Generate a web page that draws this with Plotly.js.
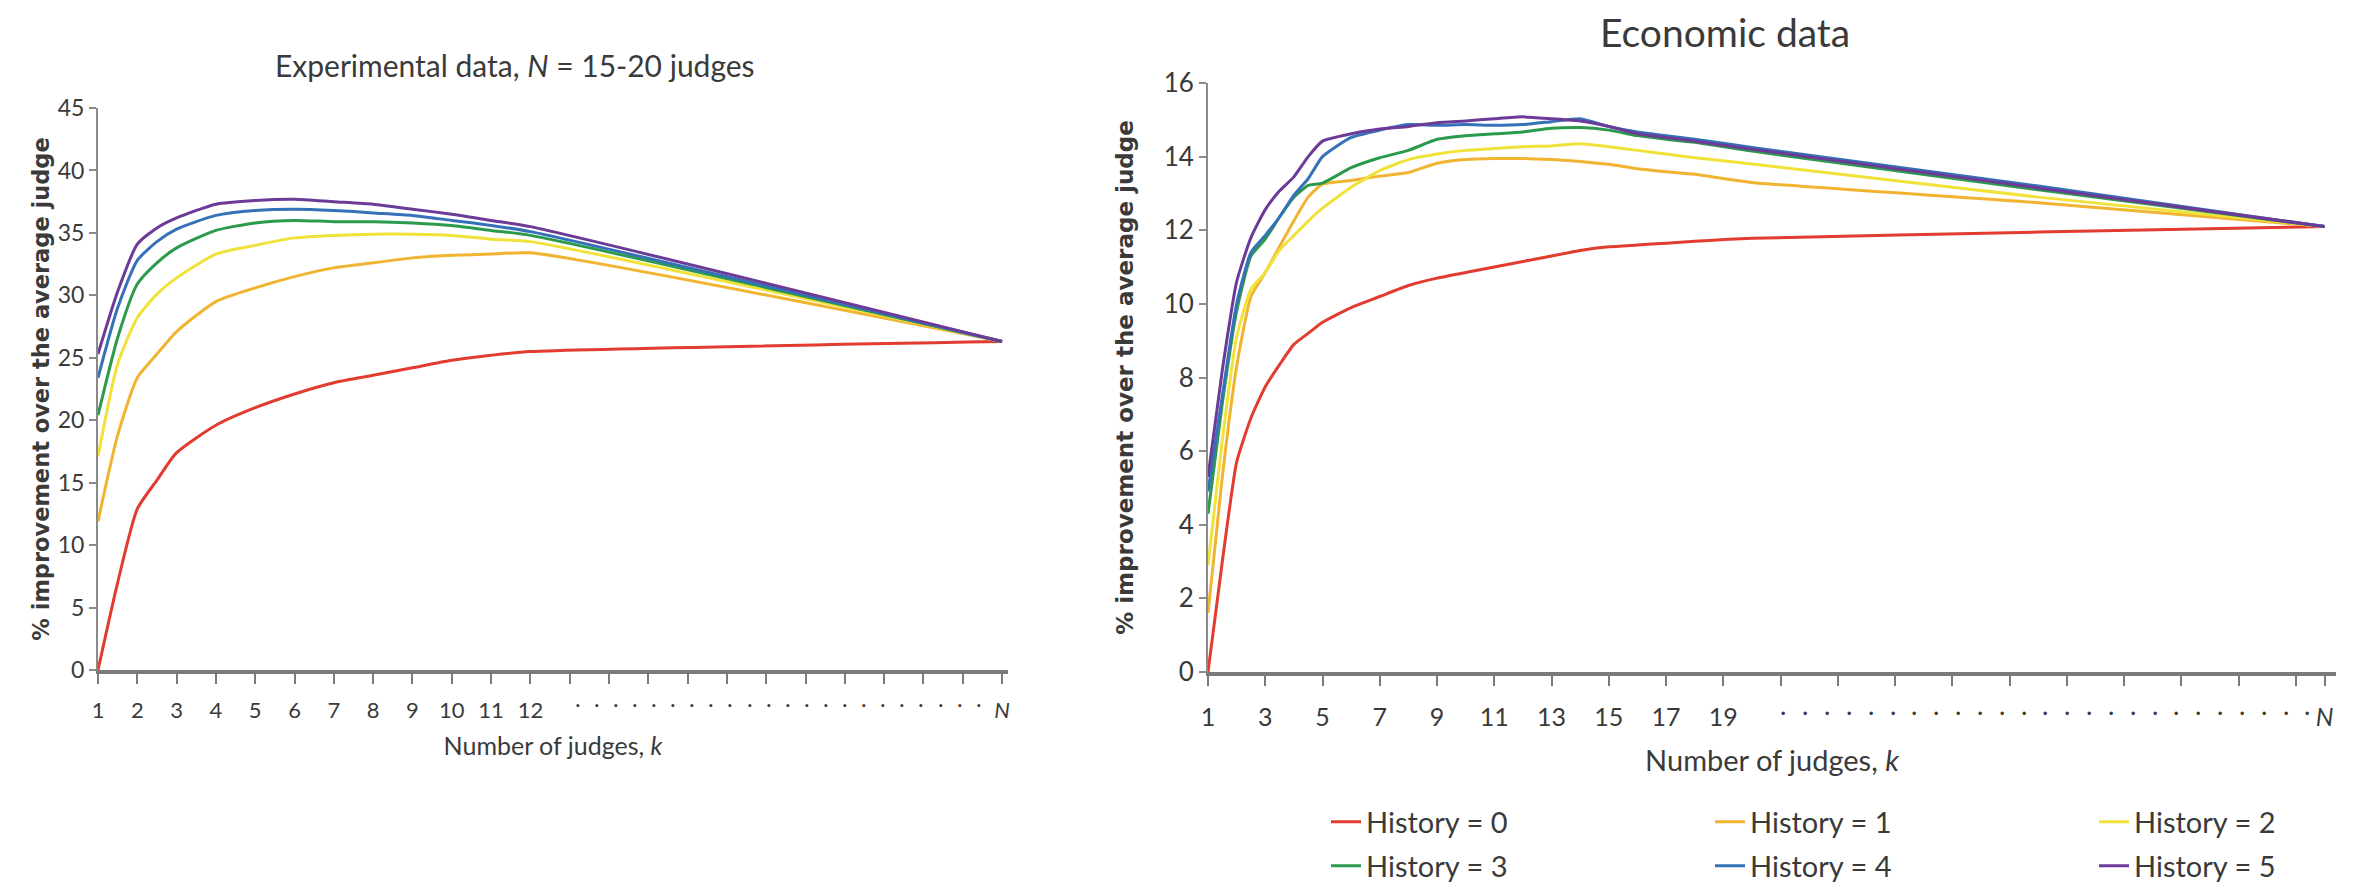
<!DOCTYPE html>
<html>
<head>
<meta charset="utf-8">
<script src="https://cdn.plot.ly/plotly-3.0.1.min.js"></script>
<style>html,body{margin:0;padding:0;background:#fff;}#chart{width:2364px;height:890px;}</style>
</head>
<body>
<div id="chart"></div>
<script>
// ---------- data ----------
var seriesNames = ['History = 0', 'History = 1', 'History = 2', 'History = 3', 'History = 4', 'History = 5'];
var seriesColors = ['#e23b2f', '#f1b431', '#f1e23a', '#2c9a4b', '#3571b8', '#6b3b97'];

// Left panel: experimental data (k positions; 24 = N)
var kLeft = [1, 1.5, 2, 2.5, 3, 4, 5, 6, 7, 8, 9, 10, 11, 12, 24];
var expH0 = [0, 7.0, 12.9, 15.2, 17.4, 19.6, 21.0, 22.1, 23.0, 23.6, 24.2, 24.8, 25.2, 25.5, 26.3];
var expH1 = [11.9, 18.8, 23.4, 25.3, 27.1, 29.5, 30.6, 31.5, 32.2, 32.6, 33.0, 33.2, 33.3, 33.4, 26.3];
var expH2 = [17.1, 24.5, 28.2, 30.1, 31.4, 33.3, 34.0, 34.6, 34.8, 34.9, 34.9, 34.8, 34.5, 34.3, 26.3];
var expH3 = [20.4, 26.6, 30.9, 32.6, 33.8, 35.2, 35.8, 36.0, 35.9, 35.9, 35.8, 35.6, 35.2, 34.8, 26.3];
var expH4 = [23.4, 29.0, 32.8, 34.3, 35.3, 36.4, 36.8, 36.9, 36.8, 36.6, 36.4, 36.0, 35.6, 35.1, 26.3];
var expH5 = [25.3, 30.3, 34.1, 35.4, 36.2, 37.3, 37.6, 37.7, 37.5, 37.3, 36.9, 36.5, 36.0, 35.5, 26.3];

// Right panel: economic data (k positions; 40 = N)
var kRight = [1, 1.5, 2, 2.5, 3, 3.5, 4, 4.5, 5, 6, 7, 8, 9, 10, 11, 12, 13, 14, 15, 16, 17, 18, 20, 30, 40];
var ecoH0 = [0, 3.0, 5.7, 6.9, 7.75, 8.35, 8.9, 9.2, 9.5, 9.9, 10.2, 10.5, 10.7, 10.85, 11.0, 11.15, 11.3, 11.45, 11.55, 11.6, 11.65, 11.7, 11.78, 11.95, 12.1];
var ecoH1 = [1.6, 5.3, 8.3, 10.2, 10.85, 11.56, 12.26, 12.9, 13.25, 13.35, 13.47, 13.57, 13.82, 13.92, 13.95, 13.95, 13.92, 13.87, 13.79, 13.67, 13.59, 13.52, 13.3, 12.75, 12.1];
var ecoH2 = [2.9, 6.3, 9.1, 10.4, 10.85, 11.46, 11.86, 12.25, 12.6, 13.17, 13.62, 13.92, 14.07, 14.17, 14.22, 14.27, 14.29, 14.35, 14.27, 14.17, 14.07, 13.97, 13.8, 12.9, 12.1];
var ecoH3 = [4.3, 7.3, 9.8, 11.3, 11.76, 12.36, 12.9, 13.22, 13.28, 13.7, 13.97, 14.17, 14.47, 14.57, 14.62, 14.67, 14.77, 14.79, 14.72, 14.57, 14.47, 14.39, 14.15, 13.1, 12.1];
var ecoH4 = [4.9, 7.5, 10.0, 11.4, 11.86, 12.36, 12.95, 13.4, 14.0, 14.52, 14.72, 14.87, 14.85, 14.87, 14.85, 14.87, 14.95, 15.03, 14.82, 14.67, 14.57, 14.47, 14.25, 13.2, 12.1];
var ecoH5 = [5.3, 8.2, 10.6, 11.8, 12.56, 13.07, 13.45, 14.0, 14.42, 14.62, 14.75, 14.82, 14.92, 14.97, 15.03, 15.08, 15.03, 14.97, 14.82, 14.62, 14.52, 14.42, 14.2, 13.15, 12.1];

// Tick labels
var leftTickVals = [1,2,3,4,5,6,7,8,9,10,11,12,13,14,15,16,17,18,19,20,21,22,23,24];
var leftTickText = ['1','2','3','4','5','6','7','8','9','10','11','12','','','','','','','','','','','','<i>N</i>'];
var rightTickVals = [1,3,5,7,9,11,13,15,17,19,21,23,25,27,29,31,33,35,37,39,40];
var rightTickText = ['1','3','5','7','9','11','13','15','17','19','','','','','','','','','','','<i>N</i>'];

var leftTitle = 'Experimental data, <i>N</i> = 15-20 judges';
var rightTitle = 'Economic data';
var yTitle = '% improvement over the average judge';
var xTitle = 'Number of judges, <i>k</i>';

// ---------- build ----------
var W = 2364, H = 890;
var FONT = 'Lato, "Open Sans", sans-serif';
var TXT = '#3a3a3a';
var expSeries = [expH0, expH1, expH2, expH3, expH4, expH5];
var ecoSeries = [ecoH0, ecoH1, ecoH2, ecoH3, ecoH4, ecoH5];
var traces = [];
for (var i = 0; i < 6; i++) {
  traces.push({
    x: kLeft, y: expSeries[i], type: 'scatter', mode: 'lines',
    line: {color: seriesColors[i], width: 3, shape: 'spline', smoothing: 0.6},
    name: seriesNames[i], showlegend: false, xaxis: 'x', yaxis: 'y', hoverinfo: 'skip'
  });
}
for (var j = 0; j < 6; j++) {
  traces.push({
    x: kRight, y: ecoSeries[j], type: 'scatter', mode: 'lines',
    line: {color: seriesColors[j], width: 3, shape: 'spline', smoothing: 0.5},
    name: seriesNames[j], showlegend: true, legend: j < 3 ? 'legend' : 'legend2',
    xaxis: 'x2', yaxis: 'y2', hoverinfo: 'skip'
  });
}

function px(x) { return x / W; }
function py(y) { return 1 - y / H; }

var xCommon = {
  showgrid: false, zeroline: false, showline: true, linecolor: '#7a7a7a', linewidth: 4,
  ticks: 'outside', ticklen: 10, tickwidth: 2, tickcolor: '#7a7a7a',
  tickmode: 'array', automargin: false
};
var yCommon = {
  showgrid: false, zeroline: false, showline: true, linecolor: '#8a8a8a', linewidth: 2,
  ticks: 'outside', ticklen: 7, tickwidth: 2, tickcolor: '#8a8a8a', automargin: false
};

var annotations = [
  {text: leftTitle, xref: 'paper', yref: 'paper', x: px(515), y: py(65), xanchor: 'center', yanchor: 'middle',
   showarrow: false, font: {size: 30, color: TXT, family: FONT}},
  {text: rightTitle, xref: 'paper', yref: 'paper', x: px(1725), y: py(32), xanchor: 'center', yanchor: 'middle',
   showarrow: false, font: {size: 39, color: TXT, family: FONT}}
];
// dotted "..." run between the last numbered tick and N (a text decoration)
for (var d = 0; d < 22; d++) {
  annotations.push({text: '.', xref: 'x', yref: 'paper', x: 13.2 + d * 0.486, y: py(697), xanchor: 'center', yanchor: 'middle',
    showarrow: false, font: {size: 24, color: TXT, family: FONT}});
}
for (var e = 0; e < 25; e++) {
  annotations.push({text: '.', xref: 'x2', yref: 'paper', x: 21.1 + e * 0.7625, y: py(704), xanchor: 'center', yanchor: 'middle',
    showarrow: false, font: {size: 27, color: TXT, family: FONT}});
}

var layout = {
  width: W, height: H,
  margin: {l: 0, r: 0, t: 0, b: 0, pad: 0, autoexpand: false},
  paper_bgcolor: '#ffffff', plot_bgcolor: 'rgba(0,0,0,0)',
  font: {family: FONT, color: TXT},
  showlegend: true,
  xaxis: Object.assign({}, xCommon, {
    domain: [px(98), px(1008)], range: [1, 24.15], anchor: 'y',
    tickvals: leftTickVals, ticktext: leftTickText,
    tickfont: {size: 22, color: TXT, family: FONT}, ticklabelstandoff: 8,
    title: {text: xTitle, font: {size: 25, color: TXT, family: FONT}, standoff: 16}
  }),
  yaxis: Object.assign({}, yCommon, {
    domain: [py(670), py(108)], range: [0, 45], dtick: 5, tick0: 0, anchor: 'x',
    tickfont: {size: 23, color: TXT, family: FONT},
    title: {text: yTitle, font: {size: 22.5, color: TXT, family: '"DejaVu Sans", sans-serif', weight: 'bold'}, standoff: 2}
  }),
  xaxis2: Object.assign({}, xCommon, {
    domain: [px(1208), px(2336)], range: [1, 40.4], anchor: 'y2',
    tickvals: rightTickVals, ticktext: rightTickText,
    tickfont: {size: 25, color: TXT, family: FONT}, ticklabelstandoff: 10,
    title: {text: xTitle, font: {size: 29, color: TXT, family: FONT}, standoff: 22}
  }),
  yaxis2: Object.assign({}, yCommon, {
    domain: [py(672), py(83)], range: [0, 16], dtick: 2, tick0: 0, anchor: 'x2',
    tickfont: {size: 26, color: TXT, family: FONT},
    title: {text: yTitle, font: {size: 23, color: TXT, family: '"DejaVu Sans", sans-serif', weight: 'bold'}, standoff: 24}
  }),
  legend: {
    orientation: 'h', x: px(1326), xanchor: 'left', y: py(822), yanchor: 'middle',
    entrywidth: 339, entrywidthmode: 'pixels', itemwidth: 30,
    font: {size: 29, color: TXT, family: FONT}, bgcolor: 'rgba(0,0,0,0)', borderwidth: 0
  },
  legend2: {
    orientation: 'h', x: px(1326), xanchor: 'left', y: py(866), yanchor: 'middle',
    entrywidth: 339, entrywidthmode: 'pixels', itemwidth: 30,
    font: {size: 29, color: TXT, family: FONT}, bgcolor: 'rgba(0,0,0,0)', borderwidth: 0
  },
  annotations: annotations
};

Plotly.newPlot('chart', traces, layout, {staticPlot: true, displayModeBar: false});
</script>
</body>
</html>
